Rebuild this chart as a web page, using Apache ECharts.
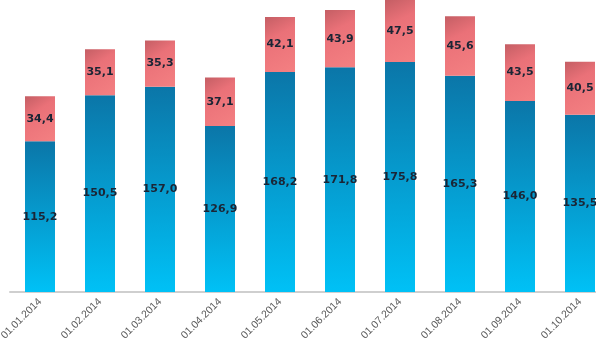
<!DOCTYPE html>
<html>
<head>
<meta charset="utf-8">
<script src="https://cdn.jsdelivr.net/npm/echarts@6/dist/echarts.min.js"></script>
<style>
  html, body { margin: 0; padding: 0; background: #fff; }
  #chart { width: 596px; height: 347px; }
</style>
</head>
<body>
<div id="chart"></div>
<script>
const categories = ['01.01.2014', '01.02.2014', '01.03.2014', '01.04.2014', '01.05.2014',
  '01.06.2014', '01.07.2014', '01.08.2014', '01.09.2014', '01.10.2014'];
const baseValues = [115.2, 150.5, 157.0, 126.9, 168.2, 171.8, 175.8, 165.3, 146.0, 135.5];
const topValues = [34.4, 35.1, 35.3, 37.1, 42.1, 43.9, 47.5, 45.6, 43.5, 40.5];

const chart = echarts.init(document.getElementById('chart'), null, { renderer: 'canvas' });

// decimal comma, one digit
const fmt = (p) => p.value.toFixed(1).replace('.', ',');

const labelStyle = {
  show: true,
  position: 'inside',
  formatter: fmt,
  color: '#1b2535',
  fontFamily: 'DejaVu Sans',
  fontWeight: 'bold',
  fontSize: 11,
};

chart.setOption({
  animation: false,
  grid: { left: 10, right: -14, top: 0, bottom: 55, outerBoundsMode: 'none', containLabel: false },
  xAxis: {
    type: 'category',
    data: categories,
    axisLine: { lineStyle: { color: '#cfcfcf', width: 2 } },
    axisTick: { show: false },
    axisLabel: {
      rotate: 45,
      interval: 0,
      margin: 8,
      color: '#5a5a5a',
      fontFamily: 'Liberation Sans',
      fontSize: 10.5,
    },
  },
  yAxis: {
    type: 'value',
    min: 0,
    max: 223.3,
    show: false,
    splitLine: { show: false },
  },
  series: [
    {
      type: 'bar',
      stack: 'total',
      barWidth: 30,
      data: baseValues,
      itemStyle: {
        color: new echarts.graphic.LinearGradient(0, 0, 0, 1, [
          { offset: 0, color: '#0b76a8' },
          { offset: 1, color: '#00c1f6' },
        ]),
      },
      label: labelStyle,
    },
    {
      type: 'bar',
      stack: 'total',
      barWidth: 30,
      data: topValues,
      itemStyle: {
        color: new echarts.graphic.LinearGradient(0, 0, 1, 1, [
          { offset: 0, color: '#c45e64' },
          { offset: 0.35, color: '#ea7178' },
          { offset: 1, color: '#f48082' },
        ]),
      },
      label: labelStyle,
    },
  ],
});
</script>
</body>
</html>
